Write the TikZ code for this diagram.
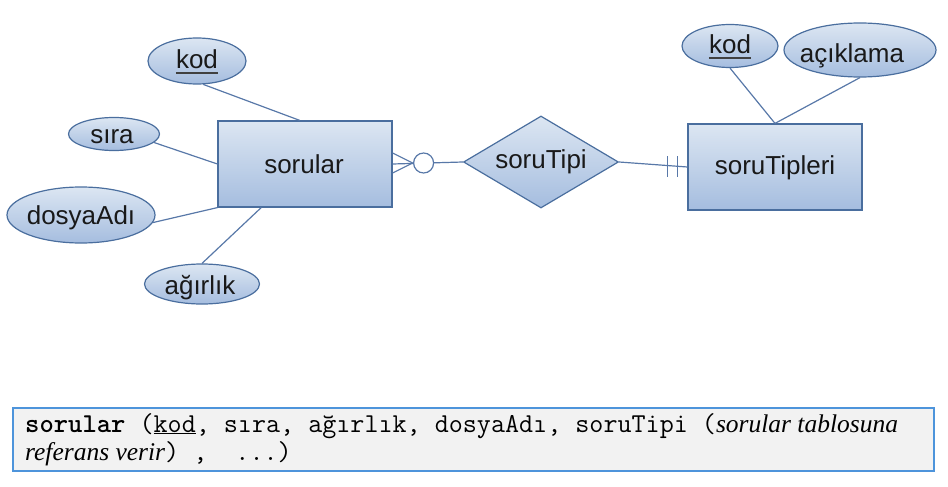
\documentclass[tikz,border=0pt]{standalone}
\usepackage{fontspec}
\setmainfont{Liberation Sans}
\newfontfamily\serf{Liberation Serif}
\usetikzlibrary{shapes.geometric,calc}
\definecolor{ertop}{HTML}{DCE6F2}
\definecolor{erbot}{HTML}{A5BDDF}
\definecolor{erline}{HTML}{4A6E9E}
\definecolor{connc}{HTML}{5878A8}
\definecolor{boxfill}{HTML}{F2F2F2}
\definecolor{boxline}{HTML}{4D94DB}
\begin{document}
\begin{tikzpicture}[x=1pt,y=-1pt,
  erfill/.style={top color=ertop,bottom color=erbot,draw=erline,line width=1.2pt},
  attr/.style={ellipse,erfill,inner sep=0pt},
  ent/.style={rectangle,erfill,minimum width=174pt,minimum height=86pt,inner sep=0pt},
  lbl/.style={font=\fontsize{26}{30}\selectfont,text=black!90,inner sep=0pt},
  conn/.style={draw=connc,line width=1.2pt},
  ul/.style={draw=black!75,line width=2.2pt},
  itx/.style={},
  codeline/.style={anchor=base west,inner sep=0pt,font=\ttfamily\fontsize{27.3}{30}\selectfont}]
\useasboundingbox (0,0) rectangle (948,487);

% entities and relationship
\node[ent] (sor) at (305,164) {};
\node[ent] (stp) at (775,167) {};
\node[diamond,erfill,minimum width=155pt,minimum height=92pt,inner sep=0pt,aspect=1.68] (dia) at (541,162) {};

% attributes
\node[attr,minimum width=98pt,minimum height=46pt] (kodL) at (197,61) {};
\node[attr,minimum width=91pt,minimum height=33pt] (sira) at (114,134) {};
\node[attr,minimum width=148pt,minimum height=56pt] (dosya) at (81,215) {};
\node[attr,minimum width=115pt,minimum height=40pt] (agir) at (202,284) {};
\node[attr,minimum width=96pt,minimum height=43pt] (kodR) at (730,46) {};
\node[attr,minimum width=152pt,minimum height=54pt] (acik) at (860,50) {};

% labels
\node[lbl] (tsor) at (304,164) {sorular};
\node[lbl] (tstp) at (775,168) {soruTipleri};
\node[lbl] (tdia) at (541,162) {soruTipi};
\node[lbl] (tkodL) at (197,59) {kod};
\node[lbl] (tsira) at (112,137) {sıra};
\node[lbl] (tdosya) at (81,218) {dosyaAdı};
\node[lbl] (tagir) at (200,288) {ağırlık};
\node[lbl] (tkodR) at (730,44) {kod};
\node[lbl] (tacik) at (852,56) {açıklama};
\draw[ul] ($(tkodL.base west)+(0,5)$) -- ($(tkodL.base east)+(0,5)$);
\draw[ul] ($(tkodR.base west)+(0,5)$) -- ($(tkodR.base east)+(0,5)$);

% attribute connectors
\draw[conn] (kodL.-75) -- ($(sor.north west)!0.47!(sor.north east)$);
\draw[conn] (sira.-12) -- (sor.west);
\draw[conn] (dosya.-6) -- (sor.south west);
\draw[conn] (agir.north) -- ($(sor.south west)!0.25!(sor.south east)$);
\draw[conn] (kodR.south) -- (stp.north);
\draw[conn] (acik.south) -- (stp.north);

% relationship connectors
\draw[conn] (sor.east) -- (dia.west);
\coordinate (cf) at ($(sor.east)+(20,-1)$);
\draw[conn] ($(sor.east)+(0,-11)$) -- (cf) -- ($(sor.east)+(0,9)$);
\node[circle,draw=connc,fill=white,line width=1.2pt,minimum size=20pt,inner sep=0pt] (zc) at ($(sor.east)+(31,-1)$) {};
\draw[conn] (dia.east) -- (stp.west);
\draw[conn] ($(stp.west)+(-20,-11)$) -- ($(stp.west)+(-20,10)$);
\draw[conn] ($(stp.west)+(-10,-11)$) -- ($(stp.west)+(-10,10)$);

% bottom box
\node[draw=boxline,fill=boxfill,line width=1.5pt,minimum width=921pt,minimum height=63pt,inner sep=0pt,anchor=north west] (box) at (12,407) {};
\node[codeline] (l1) at (25,432)
  {\textbf{sorular} (\underline{kod}, sıra, ağırlık, dosyaAdı, soruTipi ({\serf\itshape\fontsize{25.5}{28}\selectfont sorular tablosuna}};
\node[codeline] (l2) at (25,460)
  {{\serf\itshape\fontsize{25.5}{28}\selectfont referans verir}) ,\ \ ...)};
\end{tikzpicture}
\end{document}
